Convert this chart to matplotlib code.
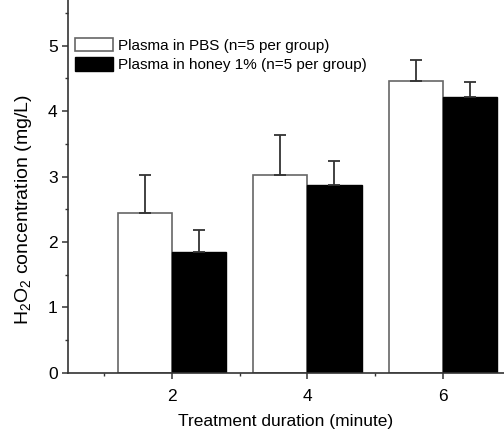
import numpy as np
import matplotlib
matplotlib.use('Agg')
import matplotlib.pyplot as plt
from matplotlib.ticker import MultipleLocator, FixedLocator

plt.rcParams['font.family'] = ['Liberation Sans', 'DejaVu Sans']
plt.rcParams['mathtext.fontset'] = 'custom'
plt.rcParams['mathtext.rm'] = 'Liberation Sans'
plt.rcParams['mathtext.default'] = 'regular'

# --- data ---
durations = [2, 4, 6]
pbs_mean = [2.45, 3.02, 4.46]
pbs_err = [0.58, 0.61, 0.32]
honey_mean = [1.85, 2.87, 4.22]
honey_err = [0.34, 0.37, 0.23]

labels = ["Plasma in PBS (n=5 per group)", "Plasma in honey 1% (n=5 per group)"]

w = 0.8
x = np.array(durations, dtype=float)

fig = plt.figure(figsize=(5.04, 4.29), dpi=100)
ax = fig.add_axes([0.135, 0.131, 0.865, 0.869])

ekw = dict(ecolor='#333333', elinewidth=1.3, capsize=4, capthick=1.3)
ax.bar(x - w, pbs_mean, width=w, align='edge', color='white', edgecolor='#666666',
       linewidth=1.2, yerr=[np.zeros(3), pbs_err], error_kw=ekw, label=labels[0])
ax.bar(x, honey_mean, width=w, align='edge', color='black', edgecolor='black',
       linewidth=1.0, yerr=[np.zeros(3), honey_err], error_kw=ekw, label=labels[1])

ax.set_xlim(0.47, 6.9)
ax.set_ylim(0, 5.7)
ax.xaxis.set_major_locator(FixedLocator(durations))
ax.xaxis.set_minor_locator(FixedLocator([1, 3, 5]))
ax.yaxis.set_major_locator(MultipleLocator(1))
ax.yaxis.set_minor_locator(MultipleLocator(0.5))

for s in ['top', 'right']:
    ax.spines[s].set_visible(False)
for s in ['left', 'bottom']:
    ax.spines[s].set_color('#333333')
    ax.spines[s].set_linewidth(1.2)

ax.tick_params(which='major', direction='out', length=4.5, width=1.1, color='#333333',
               labelsize=12.5)
ax.tick_params(axis='x', which='major', pad=7.5)
ax.tick_params(axis='y', which='major', pad=3)
ax.tick_params(which='minor', direction='out', length=2.5, width=1.0, color='#333333')

ax.set_xlabel("Treatment duration (minute)", fontsize=12.5, labelpad=7)
ax.set_ylabel("H$_2$O$_2$ concentration (mg/L)", fontsize=14)
ax.yaxis.set_label_coords(-0.078, 0.437)

ax.legend(loc='upper left', bbox_to_anchor=(75 / 504, 1 - 38 / 429),
          bbox_transform=fig.transFigure, frameon=False, fontsize=11,
          handlelength=2.5, handleheight=0.95, handletextpad=0.3, labelspacing=0.3,
          borderpad=0, borderaxespad=0)

fig.savefig("out.png", dpi=100)
plt.close(fig)
